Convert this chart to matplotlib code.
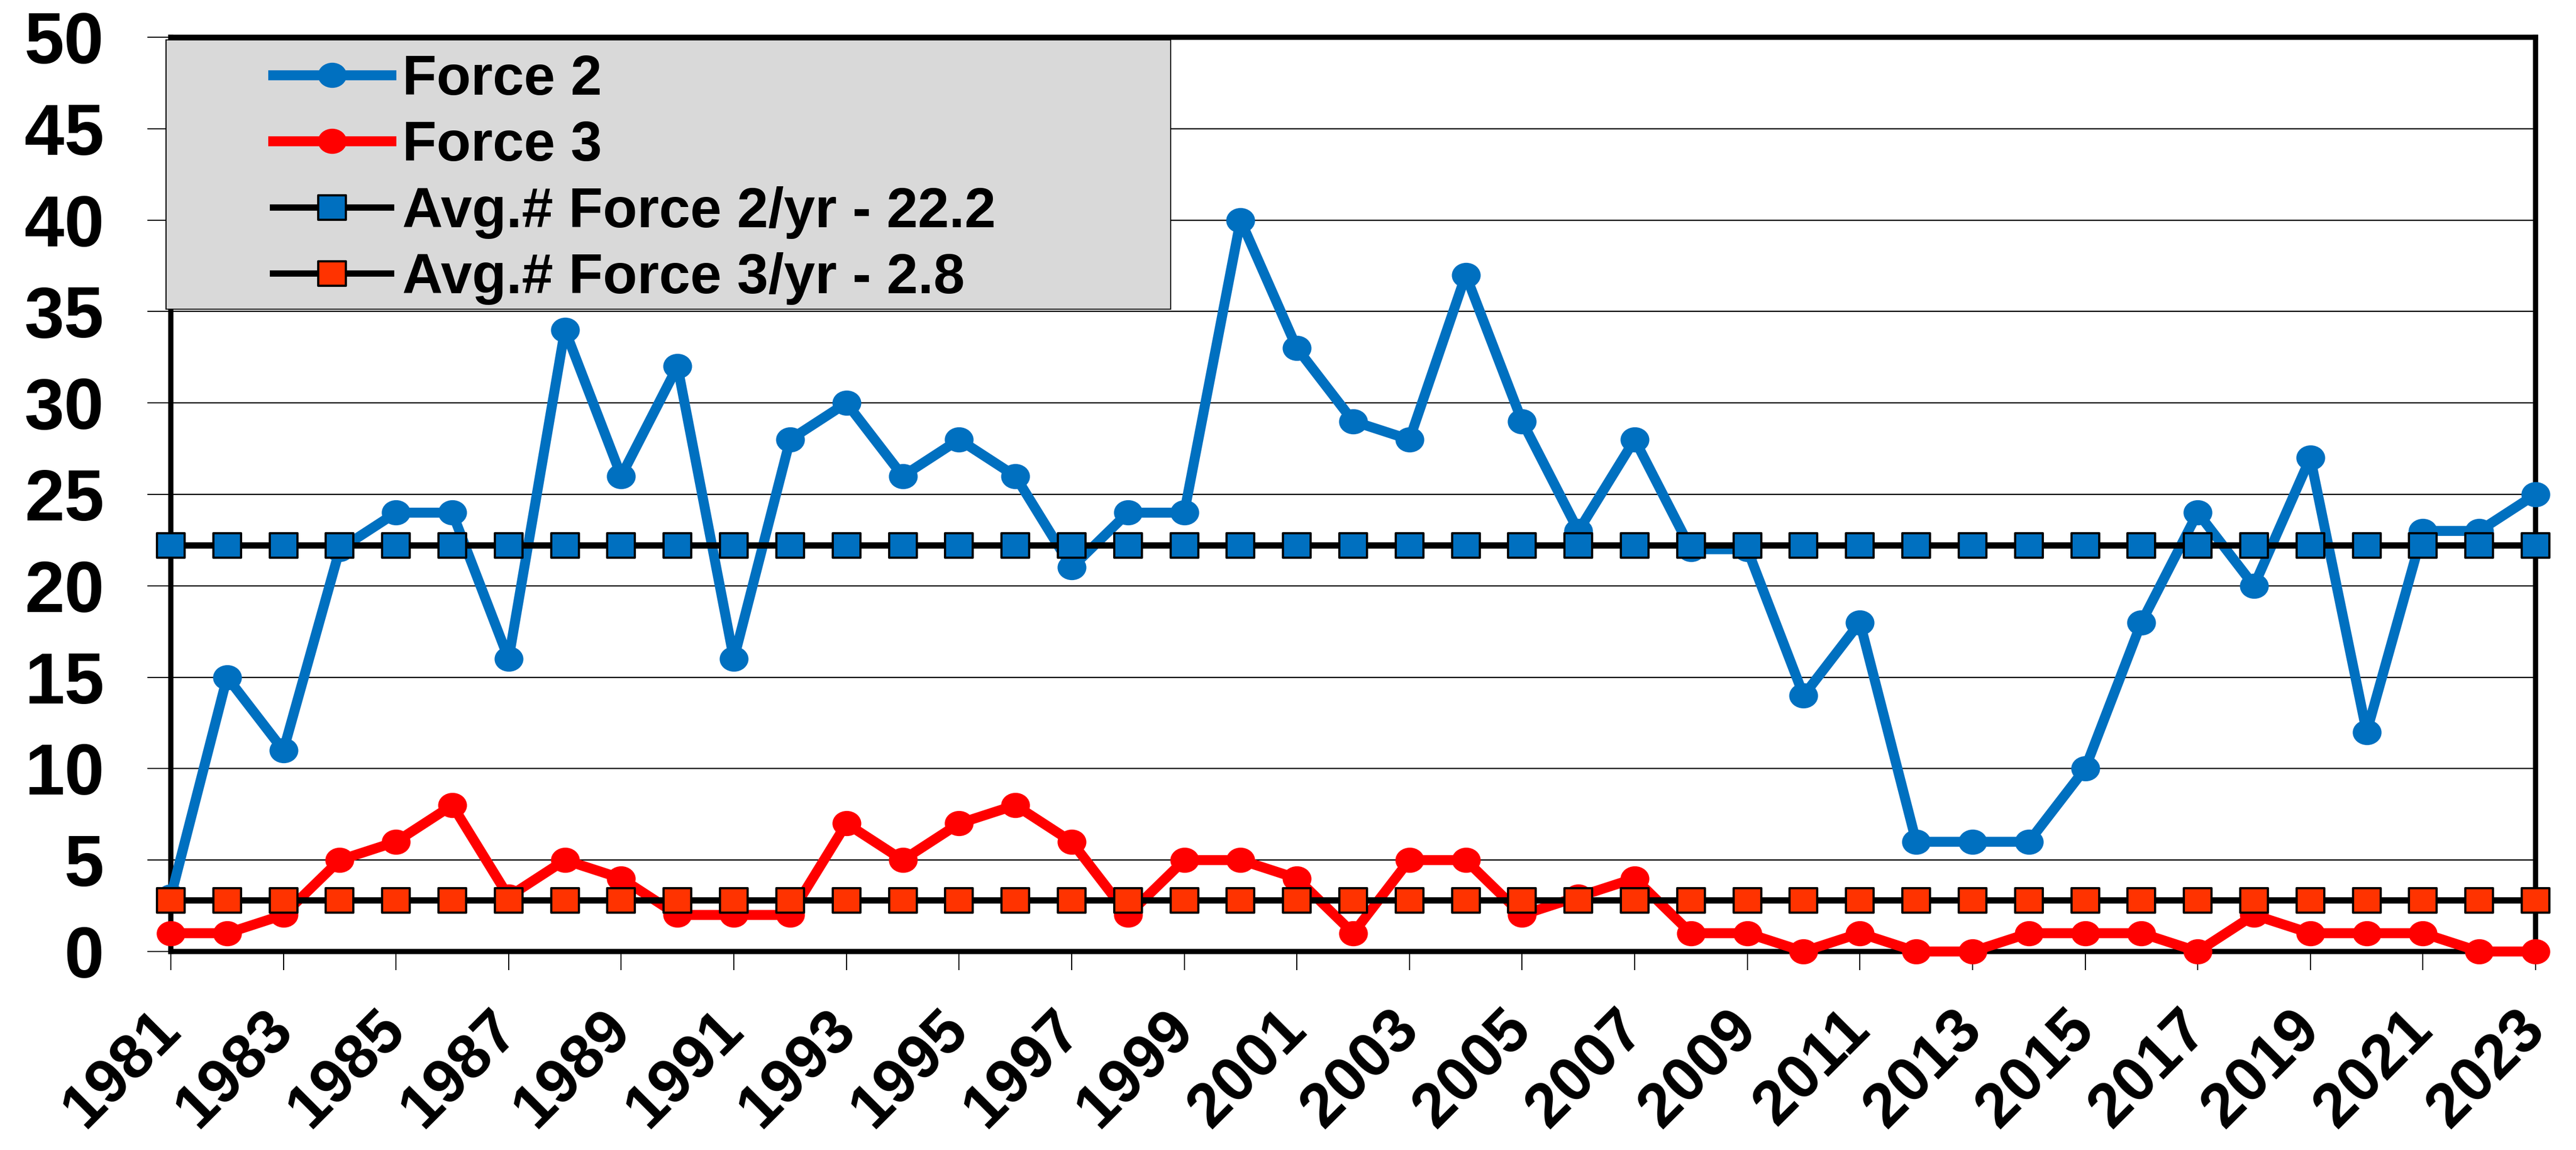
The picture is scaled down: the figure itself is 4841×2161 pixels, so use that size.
import matplotlib
matplotlib.use("Agg")
import matplotlib.pyplot as plt
from matplotlib.patches import Rectangle
from matplotlib.path import Path
from matplotlib.transforms import Affine2D
from matplotlib.markers import MarkerStyle
import numpy as np

plt.rcParams['font.family'] = ['Liberation Sans', 'DejaVu Sans']
plt.rcParams['font.weight'] = 'bold'

years = list(range(1981, 2024))
force2 = [3, 15, 11, 22, 24, 24, 16, 34, 26, 32,
          16, 28, 30, 26, 28, 26, 21, 24, 24, 40,
          33, 29, 28, 37, 29, 23, 28, 22, 22, 14,
          18, 6, 6, 6, 10, 18, 24, 20, 27, 12,
          23, 23, 25]
force3 = [1, 1, 2, 5, 6, 8, 3, 5, 4, 2,
          2, 2, 7, 5, 7, 8, 6, 2, 5, 5,
          4, 1, 5, 5, 2, 3, 4, 1, 1, 0,
          1, 0, 0, 1, 1, 1, 0, 2, 1, 1,
          1, 0, 0]
avg_force2 = 22.2
avg_force3 = 2.8
labels = ['Force 2', 'Force 3',
          'Avg.# Force 2/yr - 22.2', 'Avg.# Force 3/yr - 2.8']

# markers in the original are slightly wider than tall
oval = MarkerStyle(Path.circle().transformed(Affine2D().scale(1, 0.87)))
box_path = Path([(-1, -0.86), (1, -0.86), (1, 0.86), (-1, 0.86), (-1, -0.86)],
                [Path.MOVETO, Path.LINETO, Path.LINETO, Path.LINETO, Path.CLOSEPOLY])
rect = MarkerStyle(box_path, joinstyle='round')

W, H = 4841, 2161
fig = plt.figure(figsize=(W / 100, H / 100), dpi=100)
ax = fig.add_axes([321 / W, 1 - 1788 / H, (4765 - 321) / W, (1788 - 70) / H])

ax.plot(years, force2, color='#0070C0', lw=13.5, marker=oval, ms=38,
        label=labels[0], clip_on=False, zorder=3)
ax.plot(years, force3, color='#FF0000', lw=13.5, marker=oval, ms=38,
        label=labels[1], clip_on=False, zorder=3)
ax.plot(years, [avg_force2] * len(years), color='black', lw=8.5, marker=rect, ms=38,
        mfc='#0070C0', mec='black', mew=3, label=labels[2], clip_on=False, zorder=4)
ax.plot(years, [avg_force3] * len(years), color='black', lw=8.5, marker=rect, ms=38,
        mfc='#FF3300', mec='black', mew=3, label=labels[3], clip_on=False, zorder=4)

ax.set_xlim(1981, 2023)
ax.set_ylim(0, 50)
ax.set_yticks(np.arange(0, 51, 5))
ax.set_xticks(years[::2])
ax.set_xticklabels([str(y) for y in years[::2]], rotation=45, ha='right', va='center',
                   rotation_mode='anchor', fontsize=84, fontweight='bold')
ax.tick_params(axis='x', length=25, width=1.5, pad=68, direction='out')
ax.tick_params(axis='y', length=32, width=1.5, pad=58, labelsize=97, direction='out')
for t in ax.get_yticklabels():
    t.set_fontweight('bold')

ax.yaxis.grid(True, color='black', lw=1.7)
ax.set_axisbelow(True)
for s in ax.spines.values():
    s.set_linewidth(7)
    s.set_color('black')

# grey legend box
box = Rectangle((312 / W, 1 - 581 / H), (2200 - 312) / W, (581 - 75) / H,
                transform=fig.transFigure, facecolor='#D9D9D9', edgecolor='black',
                lw=1.5, zorder=10)
fig.add_artist(box)
leg = fig.legend(loc='center left', bbox_to_anchor=(513 / W, 1 - 337 / H),
                 frameon=False, fontsize=76, handlelength=2.1, handletextpad=0.2,
                 labelspacing=0.24, borderpad=0, borderaxespad=0)
leg.set_zorder(11)
for t in leg.get_texts():
    t.set_fontweight('bold')

fig.savefig('out.png', dpi=100)
